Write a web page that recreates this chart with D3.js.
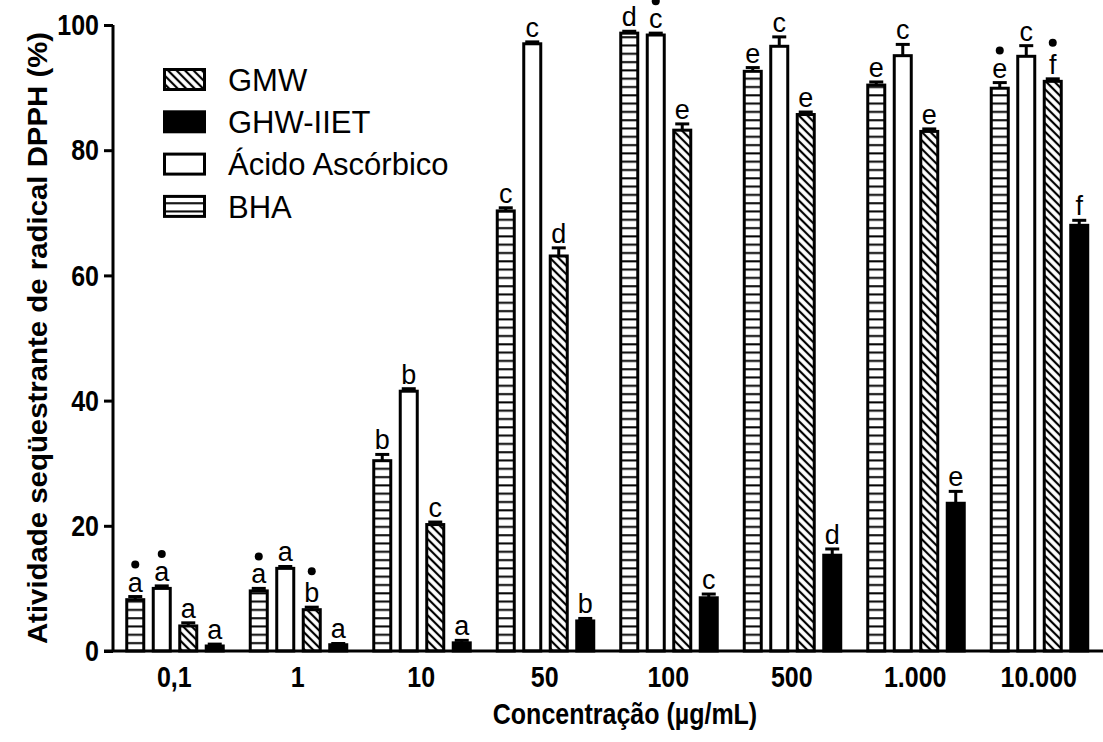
<!DOCTYPE html>
<html>
<head>
<meta charset="utf-8">
<script src="https://cdn.jsdelivr.net/npm/d3@7"></script>
<style>
  html, body { margin: 0; padding: 0; background: #fff; }
  svg { display: block; font-family: "Liberation Sans", Arial, sans-serif; }
</style>
</head>
<body>
<svg id="chart" width="1103" height="742"></svg>
<script>
// Concentrations tested (x-axis groups)
const categories = ["0,1", "1", "10", "50", "100", "500", "1.000", "10.000"];

// Bar order inside each group
const seriesOrder = ["BHA", "Ácido Ascórbico", "GMW", "GHW-IIET"];
// Legend order
const legendOrder = ["GMW", "GHW-IIET", "Ácido Ascórbico", "BHA"];

// Mean scavenging activity (%)
const bhaValues  = [8.2, 9.6, 30.4, 70.3, 98.7, 92.6, 90.4, 89.9];
const ascValues  = [10.0, 13.2, 41.5, 97.0, 98.4, 96.6, 95.1, 95.0];
const gmwValues  = [4.0, 6.6, 20.2, 63.1, 83.2, 85.7, 83.0, 91.0];
const ghwValues  = [0.8, 1.0, 1.3, 4.8, 8.5, 15.3, 23.6, 68.0];

// Standard deviations (upper error bars)
const bhaErrors  = [0.5, 0.4, 1.0, 0.5, 0.3, 0.6, 0.5, 0.9];
const ascErrors  = [0.4, 0.3, 0.4, 0.3, 0.3, 1.5, 1.8, 1.7];
const gmwErrors  = [0.5, 0.4, 0.4, 1.3, 1.0, 0.4, 0.4, 0.4];
const ghwErrors  = [0.3, 0.2, 0.4, 0.4, 0.6, 1.0, 1.9, 0.8];

// Significance letters
const bhaLetters = ["a", "a", "b", "c", "d", "e", "e", "e"];
const ascLetters = ["a", "a", "b", "c", "c", "c", "c", "c"];
const gmwLetters = ["a", "b", "c", "d", "e", "e", "e", "f"];
const ghwLetters = ["a", "a", "a", "b", "c", "d", "e", "f"];

// Bullet markers placed above the letters
const bhaDots = [true, true, false, false, true, false, false, true];
const ascDots = [true, false, false, false, true, false, false, false];
const gmwDots = [false, true, false, false, false, false, false, true];
const ghwDots = [false, false, false, false, false, false, false, false];

const yTicks = [0, 20, 40, 60, 80, 100];

const series = {
  "BHA":             { values: bhaValues, errors: bhaErrors, letters: bhaLetters, dots: bhaDots, fill: "url(#hlines)" },
  "Ácido Ascórbico": { values: ascValues, errors: ascErrors, letters: ascLetters, dots: ascDots, fill: "#fff" },
  "GMW":             { values: gmwValues, errors: gmwErrors, letters: gmwLetters, dots: gmwDots, fill: "url(#diag)" },
  "GHW-IIET":        { values: ghwValues, errors: ghwErrors, letters: ghwLetters, dots: ghwDots, fill: "#000" }
};

const svg = d3.select("#chart");

// Taller-than-wide lettering used for axis text
const TEXT_STRETCH = 1.2;
function stretch(sel, k) {
  sel.each(function() {
    const t = d3.select(this);
    const tx = +t.attr("x") || 0, ty = +t.attr("y") || 0;
    t.attr("transform", `translate(${tx},${ty}) scale(1,${k})`).attr("x", 0).attr("y", 0);
  });
}

// Hatch patterns
const defs = svg.append("defs");
const hp = defs.append("pattern").attr("id", "hlines")
  .attr("patternUnits", "userSpaceOnUse").attr("width", 10).attr("height", 8.3);
hp.append("rect").attr("width", 10).attr("height", 8.3).attr("fill", "#fff");
hp.append("line").attr("x1", 0).attr("x2", 10).attr("y1", 4).attr("y2", 4)
  .attr("stroke", "#000").attr("stroke-width", 2);

const dp = defs.append("pattern").attr("id", "diag")
  .attr("patternUnits", "userSpaceOnUse").attr("width", 6).attr("height", 6)
  .attr("patternTransform", "rotate(-45)");
dp.append("rect").attr("width", 6).attr("height", 6).attr("fill", "#fff");
dp.append("line").attr("x1", 3).attr("x2", 3).attr("y1", 0).attr("y2", 6)
  .attr("stroke", "#000").attr("stroke-width", 2.2);

// Scales
const x0 = d3.scaleBand().domain(categories).range([112.5, 1100.5]).padding(0);
const x1 = d3.scaleBand().domain(seriesOrder).range([14.25, 110.75]).paddingInner(0.358).paddingOuter(0);
const y = d3.scaleLinear().domain([0, 100]).range([651, 25]);

const tallLetters = new Set(["b", "d", "f"]);

// Bars, error bars, letters
const groups = svg.append("g").selectAll("g")
  .data(categories).join("g")
  .attr("transform", d => `translate(${x0(d)},0)`);

groups.each(function(cat, i) {
  const g = d3.select(this);
  seriesOrder.forEach(name => {
    const s = series[name];
    const v = s.values[i], e = s.errors[i];
    const bx = x1(name), bw = x1.bandwidth(), cx = bx + bw / 2;
    // error bar (upper only)
    g.append("line").attr("x1", cx).attr("x2", cx)
      .attr("y1", y(v)).attr("y2", y(v + e))
      .attr("stroke", "#000").attr("stroke-width", 3);
    g.append("line").attr("x1", cx - 7).attr("x2", cx + 7)
      .attr("y1", y(v + e)).attr("y2", y(v + e))
      .attr("stroke", "#000").attr("stroke-width", 3);
    // bar
    g.append("rect").attr("x", bx).attr("width", bw)
      .attr("y", y(v)).attr("height", y(0) - y(v))
      .attr("fill", s.fill).attr("stroke", "#000").attr("stroke-width", 3);
    // letter
    const base = y(v + e) - 5;
    g.append("text").attr("x", cx).attr("y", base)
      .attr("text-anchor", "middle").attr("font-size", 27)
      .text(s.letters[i]);
    if (s.dots[i]) {
      g.append("circle").attr("cx", cx)
        .attr("cy", base - (tallLetters.has(s.letters[i]) ? 31 : 27))
        .attr("r", 4).attr("fill", "#000");
    }
  });
});

// Y axis
const yAxis = svg.append("g").attr("transform", "translate(113,0)")
  .call(d3.axisLeft(y).tickValues(yTicks).tickSize(9).tickPadding(5));
yAxis.select(".domain").attr("stroke-width", 3).attr("d", `M0,${y(100)}V${y(0)}`);
yAxis.selectAll(".tick line").attr("stroke-width", 3);
yAxis.selectAll(".tick text").attr("font-size", 25).attr("font-weight", "bold")
  .attr("font-family", "Liberation Sans, Arial, sans-serif").attr("fill", "#000")
  .call(stretch, TEXT_STRETCH);

// X axis
const xAxis = svg.append("g").attr("transform", `translate(0,${y(0)})`)
  .call(d3.axisBottom(x0).tickSize(0).tickPadding(15));
xAxis.select(".domain").attr("stroke-width", 3).attr("d", `M104,0H1103`);
xAxis.selectAll(".tick text").attr("font-size", 25).attr("font-weight", "bold")
  .attr("font-family", "Liberation Sans, Arial, sans-serif").attr("fill", "#000")
  .call(stretch, TEXT_STRETCH);

// Axis titles
svg.append("text").attr("x", 625).attr("y", 724)
  .attr("text-anchor", "middle").attr("font-size", 25).attr("font-weight", "bold")
  .text("Concentração (µg/mL)")
  .call(stretch, TEXT_STRETCH);

svg.append("text").attr("transform", "translate(47,338) rotate(-90) scale(1.05,1)")
  .attr("text-anchor", "middle").attr("font-size", 28).attr("font-weight", "bold")
  .text("Atividade seqüestrante de radical DPPH (%)");

// Legend
const legend = svg.append("g");
legendOrder.forEach((name, k) => {
  const cy = 79.5 + k * 42.3;
  legend.append("rect").attr("x", 164.5).attr("y", cy - 10)
    .attr("width", 40).attr("height", 20)
    .attr("fill", series[name].fill).attr("stroke", "#000").attr("stroke-width", 3);
  legend.append("text").attr("x", 228).attr("y", cy).attr("dy", "0.36em")
    .attr("font-size", 31).text(name);
});
</script>
</body>
</html>
